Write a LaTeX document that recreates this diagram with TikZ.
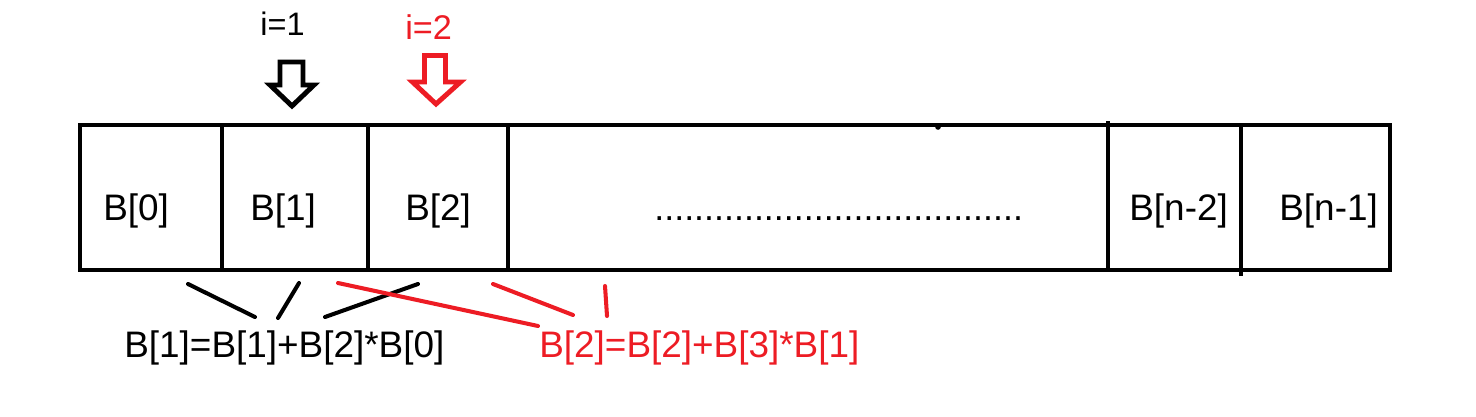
\documentclass[tikz,border=0pt]{standalone}
\usepackage{fontspec}
\setmainfont{Liberation Sans}
\definecolor{paintred}{RGB}{237,28,36}
\tikzset{
  boxline/.style={line width=2.7pt, line join=miter},
  celltext/.style={anchor=base west, inner sep=0pt, font=\fontsize{21}{25}\selectfont},
  idxtext/.style={anchor=base west, inner sep=0pt, font=\fontsize{18.5}{22}\selectfont},
  pointer/.style={line width=2.8pt, line join=miter, fill=white},
  stroke/.style={line width=2.3pt, line cap=round},
}
\begin{document}
\begin{tikzpicture}[x=0.02cm, y=-0.02cm]
\useasboundingbox (0,0) rectangle (1476,416);

% the array
\draw[boxline] (80,125) rectangle (1390,270);
\foreach \x in {222,368,508}
  \draw[boxline] (\x,125) -- (\x,270);
\draw[boxline] (1108,121) -- (1108,270);
\draw[boxline] (1241,125) -- (1241,276);
\fill (938,127) circle (1.6pt);

\node[celltext] (b0) at (103,220) {B[0]};
\node[celltext] (b1) at (250,220) {B[1]};
\node[celltext] (b2) at (405,220) {B[2]};
\node[celltext, font=\fontsize{20.4}{25}\selectfont] (dots) at (654,220) {.....................................};
\node[celltext] (bn2) at (1129,220) {B[n-2]};
\node[celltext] (bn1) at (1279,220) {B[n-1]};

% pointers
\node[idxtext] (i1) at (260,35) {i=1};
\node[idxtext, font=\fontsize{19.5}{22}\selectfont, text=paintred] (i2) at (405,39) {i=2};
\draw[pointer] (280,62) -- (303,62) -- (303,85) -- (314,85) -- (292,106)
  -- (270,85) -- (280,85) -- cycle;
\draw[pointer, draw=paintred] (424.5,55.5) -- (445.5,55.5) -- (445.5,82) -- (460.5,82)
  -- (436,104) -- (412.5,82) -- (424.5,82) -- cycle;

% formulas
\node[celltext] (f1) at (124,357) {B[1]=B[1]+B[2]*B[0]};
\node[celltext, text=paintred] (f2) at (539,357) {B[2]=B[2]+B[3]*B[1]};

\coordinate (s1) at (188,284); \coordinate (t1) at (255,317);
\coordinate (s2) at (299,283); \coordinate (t2) at (278,318);
\coordinate (s3) at (418,284); \coordinate (t3) at (325,317);
\coordinate (s4) at (338,283); \coordinate (t4) at (538,326);
\coordinate (s5) at (493,284); \coordinate (t5) at (573,315);
\coordinate (s6) at (605,286); \coordinate (t6) at (607,316);

\begin{scope}[stroke]
  \draw (s1) -- (t1);
  \draw (s2) -- (t2);
  \draw (s3) -- (t3);
  \draw[paintred] (s4) -- (t4);
  \draw[paintred] (s5) -- (t5);
  \draw[paintred] (s6) -- (t6);
\end{scope}

\end{tikzpicture}
\end{document}
